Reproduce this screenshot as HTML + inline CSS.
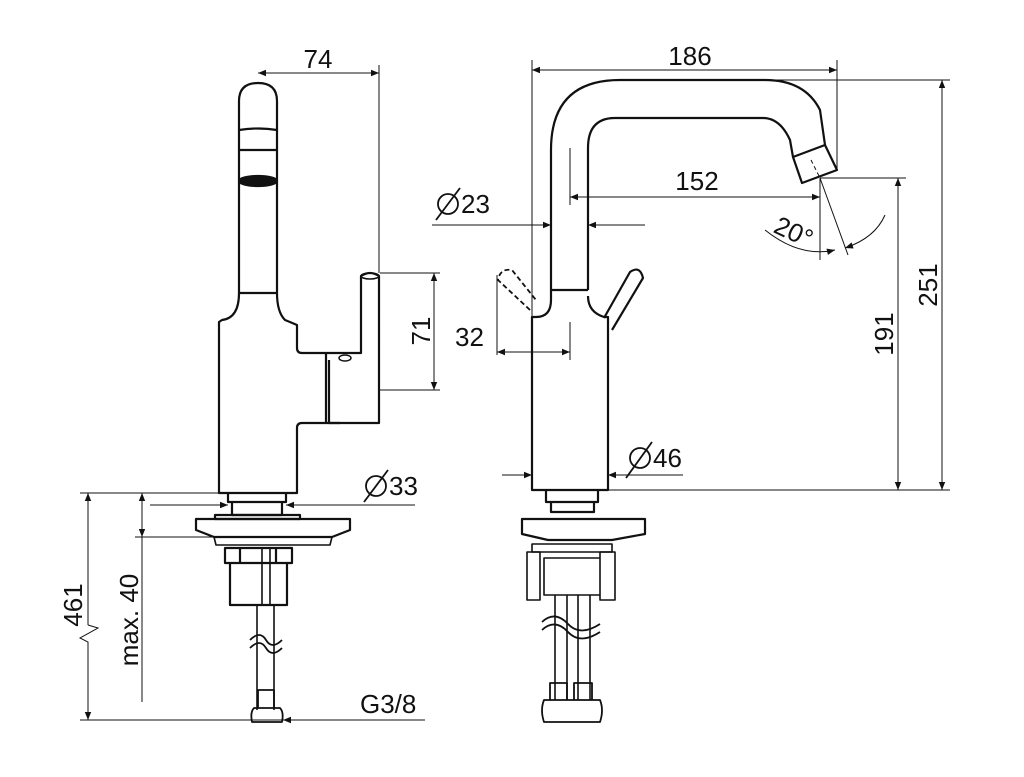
<!DOCTYPE html>
<html><head><style>body{margin:0;background:#fff}svg{display:block}text{font-family:"Liberation Sans",sans-serif;fill:#111}</style></head>
<body>
<svg width="1024" height="777" viewBox="0 0 1024 777" xmlns="http://www.w3.org/2000/svg">
<defs>
<marker id="a" viewBox="0 0 10 10" refX="10" refY="5" markerWidth="11" markerHeight="8" orient="auto-start-reverse" markerUnits="userSpaceOnUse"><path d="M0,1 L10,5 L0,9 z" fill="#111"/></marker>
</defs>
<g fill="none" stroke="#111" stroke-width="2.2" stroke-linejoin="round">
<!-- LEFT VIEW -->
<path d="M239,293 L239,101 Q239,83 258,83 Q277,83 277,101 L277,293"/>
<path d="M239,130 Q258,127 277,130 M239,150 L277,150" />
<ellipse cx="258" cy="181" rx="19" ry="5" fill="#111"/>
<path d="M239,293 L277,293"/>
<path d="M239,293 Q239,318 222,320 L219,322 L219,493 L297,493 L297,428 Q297,423 302,423 L379,423 L379,276 Q370,270 361,276 L361,353 L302,353 Q297,353 297,348 L297,325 Q290,322 285,320 Q277,312 277,293"/>
<path d="M326,353 L326,423 M329,360 L329,423 L340,423"/>
<ellipse cx="345" cy="358" rx="6" ry="3" stroke-width="1.5"/>
<ellipse cx="370" cy="276" rx="9" ry="3" stroke-width="1.5"/>
<!-- left base -->
<path d="M228,493 L228,502 L286,502 L286,493 M232,502 L232,515 L282,515 L282,502"/>
<path d="M215,515 L300,515 L300,519 L215,519 Z"/>
<path d="M196,519 L350,519 L350,530 L332,537 L214,537 L196,530 Z"/>
<path d="M214,537 L332,537 L330,545 L216,545 Z" stroke-width="1.6"/>
<path d="M225,548 L292,548 L292,563 L225,563 Z M230,563 L230,605 L287,605 L287,563 M240,548 L240,563 M276,548 L276,563"/>
<path d="M257,605 L257,710 M274,605 L274,710 M262,548 L262,605 M270,548 L270,605" stroke-width="1.6"/>
<path d="M250,648 Q260,638 266,648 Q272,658 282,648" stroke-width="1.8"/>
<path d="M250,640 Q260,630 266,640 Q272,650 282,640" stroke-width="1.8"/>
<path d="M258,690 L274,690 L274,708 L258,708 Z M254,708 L280,708 Q284,712 282,722 L252,722 Q250,712 254,708 Z" stroke-width="1.8"/>
<!-- RIGHT VIEW -->
<path d="M551,290 L551,150 Q551,80 620,80 L765,80 Q805,80 820,110 L825,145"/>
<path d="M588,290 L588,148 Q588,118 615,118 L763,118 Q780,118 790,140 L793,157"/>
<path d="M793,157 L825,145 L837,170 L802,183 Z"/>
<path d="M551,290 L588,290"/>
<path d="M551,290 L551,300 Q551,317 536,317 L532,317 L532,490 L608,490 L608,317 L604,317 Q588,312 588,296"/>
<path d="M604,318 L630,272 Q640,265 643,278 L612,330"/>
<path d="M530,310 L498,280 Q500,268 512,270 L536,300" stroke-dasharray="5,3" stroke-width="1.8"/>
<!-- right base -->
<path d="M546,490 L546,502 L598,502 L598,490 M551,502 L551,512 L594,512 L594,502"/>
<path d="M522,519 L645,519 L645,534 L612,540 L548,540 L522,534 Z"/>
<path d="M532,544 L612,544 L612,552 L532,552 Z" stroke-width="1.6"/>
<path d="M527,552 L540,552 L540,600 L527,600 Z M600,552 L615,552 L615,600 L600,600 Z M544,558 L600,558 L600,595 L544,595 Z" stroke-width="1.6"/>
<path d="M555,595 L555,700 M567,595 L567,700 M578,595 L578,700 M590,595 L590,700" stroke-width="1.6"/>
<path d="M542,630 Q555,618 568,632 Q580,645 600,632" stroke-width="1.8"/>
<path d="M542,622 Q555,610 568,624 Q580,637 600,624" stroke-width="1.8"/>
<path d="M550,683 L567,683 L567,700 L550,700 Z M574,683 L592,683 L592,700 L574,700 Z M544,700 L600,700 Q604,710 600,722 L544,722 Q540,710 544,700 Z" stroke-width="1.8"/>
</g>
<g fill="none" stroke="#111" stroke-width="1">
<!-- left dims -->
<line x1="258" y1="73" x2="379" y2="73" marker-start="url(#a)" marker-end="url(#a)"/>
<line x1="379" y1="65" x2="379" y2="273"/>
<line x1="380" y1="273" x2="440" y2="273"/><line x1="380" y1="390" x2="440" y2="390"/>
<line x1="434" y1="273" x2="434" y2="390" marker-start="url(#a)" marker-end="url(#a)"/>
<line x1="150" y1="505" x2="228" y2="505" marker-end="url(#a)"/>
<line x1="415" y1="505" x2="286" y2="505" marker-end="url(#a)"/>
<line x1="80" y1="493" x2="230" y2="493"/>
<line x1="88" y1="493" x2="88" y2="625" marker-start="url(#a)"/>
<path d="M88,625 L98,628 L80,638 L88,642 L88,720" marker-end="url(#a)"/>
<line x1="142" y1="493" x2="142" y2="537" marker-start="url(#a)" marker-end="url(#a)"/>
<line x1="135" y1="537" x2="236" y2="537"/>
<line x1="142" y1="537" x2="142" y2="702"/>
<line x1="80" y1="720" x2="425" y2="720"/>
<line x1="300" y1="720" x2="283" y2="720" marker-end="url(#a)"/>
<!-- right dims -->
<line x1="532" y1="70" x2="837" y2="70" marker-start="url(#a)" marker-end="url(#a)"/>
<line x1="532" y1="60" x2="532" y2="482"/>
<line x1="837" y1="60" x2="837" y2="170"/>
<line x1="765" y1="80" x2="950" y2="80"/>
<line x1="942" y1="80" x2="942" y2="490" marker-start="url(#a)" marker-end="url(#a)"/>
<line x1="608" y1="490" x2="950" y2="490"/>
<line x1="820" y1="178" x2="906" y2="178"/>
<line x1="898" y1="178" x2="898" y2="490" marker-start="url(#a)" marker-end="url(#a)"/>
<line x1="570" y1="148" x2="570" y2="205"/>
<line x1="820" y1="178" x2="820" y2="260"/>
<line x1="570" y1="197" x2="820" y2="197" marker-start="url(#a)" marker-end="url(#a)"/>
<line x1="820" y1="178" x2="848" y2="255"/>
<line x1="811" y1="160" x2="820" y2="178" stroke-dasharray="4,3"/>
<path d="M765,230 Q800,258 835,250" marker-end="url(#a)"/>
<path d="M885,215 Q875,238 845,248" marker-end="url(#a)"/>
<line x1="432" y1="225" x2="551" y2="225" marker-end="url(#a)"/>
<line x1="645" y1="225" x2="588" y2="225" marker-end="url(#a)"/>
<line x1="497" y1="275" x2="497" y2="355"/>
<line x1="570" y1="322" x2="570" y2="360"/>
<line x1="497" y1="352" x2="570" y2="352" marker-start="url(#a)" marker-end="url(#a)"/>
<line x1="502" y1="475" x2="532" y2="475" marker-end="url(#a)"/>
<line x1="683" y1="475" x2="608" y2="475" marker-end="url(#a)"/>
<!-- diameter symbols -->
<g stroke-width="1.8">
<circle cx="448" cy="204" r="10"/><line x1="436" y1="220" x2="460" y2="188"/>
<circle cx="376" cy="486" r="10"/><line x1="364" y1="502" x2="388" y2="470"/>
<circle cx="640" cy="458" r="10"/><line x1="626" y1="478" x2="652" y2="442"/>
</g>
</g>
<g font-size="26">
<text x="318" y="68" text-anchor="middle">74</text>
<text x="690" y="65" text-anchor="middle">186</text>
<text x="697" y="190" text-anchor="middle">152</text>
<text x="461" y="213">23</text>
<text x="389" y="495">33</text>
<text x="653" y="467">46</text>
<text x="455" y="346">32</text>
<text x="360" y="713">G3/8</text>
<text transform="translate(430,331) rotate(-90)" text-anchor="middle">71</text>
<text transform="translate(893,334) rotate(-90)" text-anchor="middle">191</text>
<text transform="translate(937,285) rotate(-90)" text-anchor="middle">251</text>
<text transform="translate(82,605) rotate(-90)" text-anchor="middle">461</text>
<text transform="translate(138,620) rotate(-90)" text-anchor="middle">max. 40</text>
<text transform="translate(790,240) rotate(25)" text-anchor="middle">20°</text>
</g>
</svg>
</body></html>
